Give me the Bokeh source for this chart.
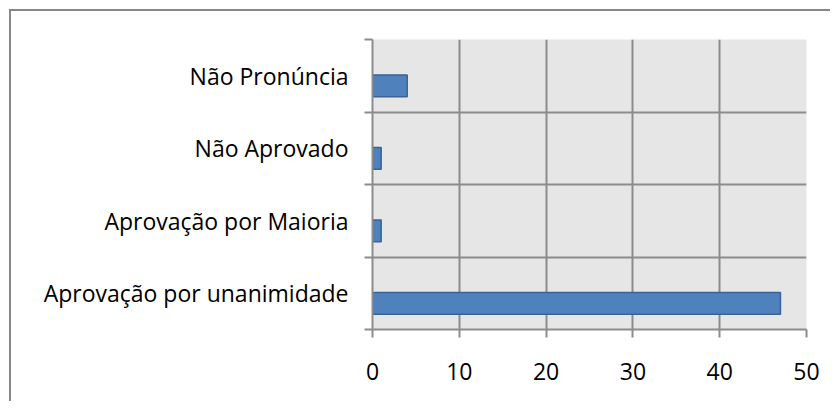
from bokeh.plotting import figure
from bokeh.models import FixedTicker, ColumnDataSource
from bokeh.embed import file_html
from bokeh.resources import INLINE

categories = ["Aprovação por unanimidade", "Aprovação por Maioria", "Não Aprovado", "Não Pronúncia"]
values = [47, 1, 1, 4]
x_ticks = [0, 10, 20, 30, 40, 50]

n = len(categories)
centers = [i + 0.5 for i in range(n)]
bar_offset = -0.14
source = ColumnDataSource(dict(y=[c + bar_offset for c in centers], v=values, cat=categories))

FONT = "Open Sans"
GRID = "#8C8C8C"
BORDER = "#878787"
LW = 2

p = figure(width=830, height=401, output_backend="svg", toolbar_location=None,
           x_range=(0, 50), y_range=(0, n),
           min_border_left=372, min_border_right=24, min_border_top=39, min_border_bottom=72)

p.background_fill_color = "#E6E6E6"
p.border_fill_color = None
p.outline_line_color = None

# outer chart border (left and top edges visible) drawn as the host background
p.styles = {
    "background-color": "white",
    "background-image": f"linear-gradient({BORDER}, {BORDER}), linear-gradient({BORDER}, {BORDER})",
    "background-size": "2px 100%, 100% 2px",
    "background-position": "9px 9px, 9px 9px",
    "background-repeat": "no-repeat",
}

p.hbar(y="y", right="v", left=0, height=0.3, source=source,
       fill_color="#4F81BD", line_color="#3A6394", line_width=1.5)

# x axis
p.xaxis.ticker = FixedTicker(ticks=x_ticks)
p.xaxis.axis_line_color = GRID
p.xaxis.axis_line_width = LW
p.xaxis.major_tick_line_color = GRID
p.xaxis.major_tick_line_width = LW
p.xaxis.major_tick_out = 8
p.xaxis.major_tick_in = 0
p.xaxis.minor_tick_line_color = None
p.xaxis.major_label_text_font = FONT
p.xaxis.major_label_text_font_size = "23px"
p.xaxis.major_label_text_color = "black"
p.xaxis.major_label_standoff = 25

# y axis: labels at category centres, ticks at boundaries
p.yaxis.ticker = FixedTicker(ticks=centers, minor_ticks=list(range(n + 1)))
p.yaxis.major_label_overrides = {c: cat for c, cat in zip(centers, categories)}
p.yaxis.axis_line_color = GRID
p.yaxis.axis_line_width = LW
p.yaxis.major_tick_line_color = None
p.yaxis.minor_tick_line_color = GRID
p.yaxis.minor_tick_line_width = LW
p.yaxis.minor_tick_out = 8
p.yaxis.minor_tick_in = 0
p.yaxis.major_tick_out = 8
p.yaxis.major_label_text_font = FONT
p.yaxis.major_label_text_font_size = "23px"
p.yaxis.major_label_text_color = "black"
p.yaxis.major_label_standoff = 16

p.xgrid.ticker = FixedTicker(ticks=x_ticks)
p.xgrid.grid_line_color = GRID
p.xgrid.grid_line_width = LW
p.ygrid.ticker = FixedTicker(ticks=list(range(n + 1)))
p.ygrid.grid_line_color = GRID
p.ygrid.grid_line_width = LW

open("out.html", "w").write(file_html(p, INLINE))
